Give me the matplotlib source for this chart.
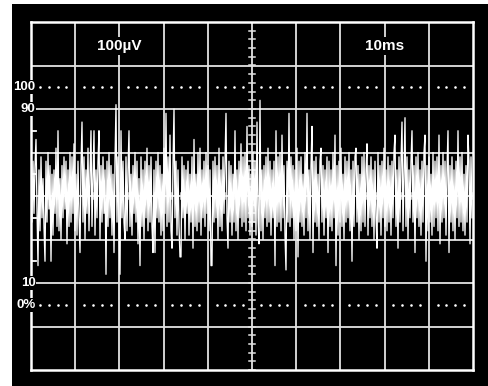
import numpy as np
import matplotlib
matplotlib.use("Agg")
import matplotlib.pyplot as plt
from matplotlib.patches import Rectangle

# screen is 10 x 8 divisions, trace values in tenths of a division
n_xdiv = 10
n_ydiv = 8
trace = [
    3, -6, 8, -4, 7, 13, -3, -16, 6, -8, 9, -5, 4, -7, -15, 8, -6, 10, -3, 7,
    -15, 5, -9, 6, -4, 11, -7, 15, -8, 4, -10, 7, -5, 9, -3, 8, -11, 6, -7, 10,
    -6, 9, -4, 12, -8, 5, -9, 8, -5, -13, 7, 17, -6, 9, -10, 6, -4, 11, -8, 5,
    15, -7, 4, 15, -9, 6, -5, 8, 15, -10, 7, -6, 9, -4, 6, -18, 8, -7, 10, -5,
    7, -9, 5, -13, 8, 21, -6, 9, -7, -18, 15, -5, 8, -6, -10, 9, -8, 6, 15, -7,
    5, -9, 7, -4, 10, -6, 8, -11, 4, -16, 9, -7, 6, -10, 8, -5, 11, -8, 7, -6,
    9, -7, -13, 6, -13, 8, -5, 10, -6, 7, -9, 5, -8, 11, -4, 19, -7, 9, -6, 14,
    -8, -12, 7, 20, -5, 8, -9, 6, -7, -14, -14, 9, -5, 7, -10, 6, -4, 8, -9, 5,
    -6, 9, -12, 13, -7, 5, -8, 10, -6, 11, -9, 6, -5, 8, -7, 10, -4, 7, -8, 6,
    -16, -16, 8, -6, 9, -5, 7, -10, 11, -7, 6, -8, 9, -4, 7, 19, -5, -12, 8, -6,
    7, -9, 5, -6, 15, -8, 6, -10, 8, -5, 12, -7, 9, -6, 10, -8, 16, -5, 7, -9,
    5, -7, 10, -6, 8, -9, 17, -5, -11, 22, -8, 6, -10, 7, -5, 9, -7, 11, -6, 8,
    -9, 6, -5, 8, -16, 15, -7, 9, -6, 10, -8, 14, -5, 7, -9, -17, 8, -6, 19, -7,
    9, -5, 7, -10, 6, -8, 11, -14, 8, -6, 9, -7, 5, -9, 10, -5, 19, -8, 6, -10,
    7, 16, -13, 8, -6, 9, -7, 5, -10, 8, 11, -6, 7, -9, 6, -5, 9, -13, 8, -7,
    6, -8, 10, -5, 14, -16, 7, -9, 8, -6, 11, -7, 5, -10, 9, -6, 8, -5, 10, -8,
    6, -15, 8, -7, 9, 11, -6, 7, -10, 5, -8, 9, -6, 10, -7, 6, 12, -9, 7, -5,
    9, -7, 6, -10, 8, -5, -12, 10, -6, 7, -9, 8, -5, 11, -7, 6, -8, 9, -6, 7,
    -9, 8, -5, 10, 14, -7, 6, -12, 9, -6, 8, 17, -8, 5, 18, -7, 9, -10, 6, -5,
    8, 15, -6, 7, -13, 9, -5, 10, -7, 6, -9, 8, -6, 10, 14, -15, 7, -8, 9, -6,
    5, -9, 10, -7, 8, -5, 9, -8, 14, -11, 7, -6, 10, -5, 8, -9, 6, 15, -13, 7,
    -6, 9, -8, 6, -10, 8, -5, 15, -7, 9, -6, 10, -8, 5, -9, 7, -6, 14, 8, -11,
    9, -5,
]
volt_label = "100µV"
time_label = "10ms"
level_labels = ["100", "90", "10", "0%"]
level_pos = [2.5, 2.0, -2.0, -2.5]

W, H = 488, 386
fig = plt.figure(figsize=(W / 100, H / 100), dpi=100)
fig.patch.set_facecolor("white")
fig.patches.append(Rectangle((12 / W, 0), 1 - 12 / W, 1 - 4 / H,
                             transform=fig.transFigure, facecolor="black",
                             edgecolor="none", zorder=-5))

ax = fig.add_axes([31 / W, 16 / H, 442 / W, 348 / H])
ax.set_zorder(2)
ax.set_facecolor("black")
ax.set_xlim(0, n_xdiv)
ax.set_ylim(-n_ydiv / 2, n_ydiv / 2)
ax.set_xticks([])
ax.set_yticks([])
for s in ax.spines.values():
    s.set_color("white")
    s.set_linewidth(1.8)

grid_c = "#e2e2e2"
for gx in range(1, n_xdiv):
    ax.axvline(gx, color=grid_c, lw=1.3, zorder=1)
for gy in range(-3, 4):
    ax.axhline(gy, color=grid_c, lw=1.3, zorder=1)

# minor ticks on the centre axes
sub = np.arange(0, n_xdiv + 0.01, 0.2)
for tx in sub:
    ax.plot([tx, tx], [-0.07, 0.07], color=grid_c, lw=1.1, zorder=1)
sub_y = np.arange(-4, 4.01, 0.2)
for ty in sub_y:
    ax.plot([4.93, 5.07], [ty, ty], color=grid_c, lw=1.1, zorder=1)

# small ticks on the left edge
for ty in [1.5, 0.5, -0.5, -1.5]:
    ax.plot([0, 0.12], [ty, ty], color="white", lw=1.3, zorder=1)

# dotted 0% / 100% rows
dots = [d for d in sub if abs(d - round(d)) > 0.05]
for lv in [2.5, -2.5]:
    ax.scatter(dots, [lv] * len(dots), s=3.5, color="white", zorder=2, linewidths=0)

xs = np.linspace(0, n_xdiv * (len(trace) - 1) / len(trace), len(trace))
ax.plot(xs, np.array(trace) / 10.0, color="white", lw=0.95, zorder=3)

box = dict(facecolor="black", edgecolor="none", pad=1.5)
ax.text(2.0, 3.44, volt_label, color="white", fontsize=11, fontweight="bold",
        family="Liberation Sans", ha="center", va="center", bbox=box, zorder=5)
ax.text(8.0, 3.44, time_label, color="white", fontsize=11, fontweight="bold",
        family="Liberation Sans", ha="center", va="center", bbox=box, zorder=5)
side_box = dict(facecolor="black", edgecolor="none", pad=0.6)
for lab, lv in zip(level_labels, level_pos):
    ax.text(0.1, lv, lab, color="white", fontsize=9.5, fontweight="bold",
            family="Liberation Sans", ha="right", va="center", bbox=side_box,
            zorder=5, clip_on=False)

fig.savefig("out.png", dpi=100, facecolor=fig.get_facecolor())
